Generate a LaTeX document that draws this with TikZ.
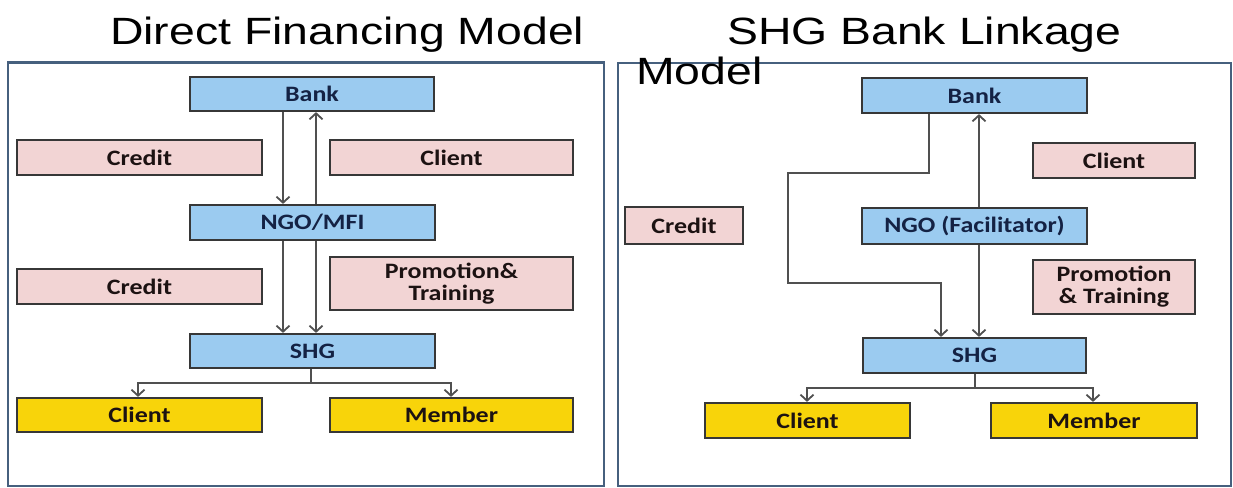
\documentclass[tikz,border=0pt]{standalone}
\usepackage{fontspec}
\usetikzlibrary{arrows.meta}
\newfontfamily\titlefont[FakeStretch=1.22]{Liberation Sans}
\newfontfamily\boxfont[FakeStretch=1.18]{Carlito Bold}
\definecolor{blueF}{RGB}{155,203,240}
\definecolor{pinkF}{RGB}{242,212,212}
\definecolor{yellowF}{RGB}{248,212,10}
\definecolor{edgeC}{RGB}{55,55,55}
\definecolor{frameC}{RGB}{70,96,126}
\definecolor{navyT}{RGB}{20,34,68}
\definecolor{darkT}{RGB}{28,18,18}
\definecolor{lineC}{RGB}{80,80,80}
\tikzset{
  box/.style={draw=edgeC, line width=2.2pt, inner sep=0pt, align=center,
    font=\boxfont\fontsize{22}{25}\selectfont},
  bluebox/.style={box, fill=blueF, text=navyT},
  pinkbox/.style={box, fill=pinkF, text=darkT},
  yellowbox/.style={box, fill=yellowF, text=darkT},
  frame/.style={draw=frameC, line width=2.4pt},
  conn/.style={draw=lineC, line width=2.2pt},
  arr/.style={conn, -{Straight Barb[length=6pt,width=13pt,line width=1.8pt]}},
  ttl/.style={inner sep=0pt, anchor=base west, font=\titlefont\fontsize{38}{40}\selectfont}
}
\begin{document}
\begin{tikzpicture}[x=1pt,y=-1pt]
\useasboundingbox (0,0) rectangle (1233,487);
\fill[white] (0,0) rectangle (1233,487);
% frames
\draw[frame] (8,62.5) rectangle (604,486);
\draw[frame] (618,63) rectangle (1231,486);
% titles
\node[ttl] (t1) at (110,45) {Direct Financing Model};
\node[ttl] (t2) at (727,45) {SHG Bank Linkage};
\node[ttl] (t3) at (636,84) {Model};
% ---------- left panel ----------
\node[bluebox, minimum width=244pt, minimum height=34pt] (bankL) at (312,94) {Bank};
\node[pinkbox, minimum width=245pt, minimum height=35pt] (creditL1) at (139.5,157.5) {Credit};
\node[pinkbox, minimum width=243pt, minimum height=35pt] (clientL1) at (451.5,157.5) {Client};
\node[bluebox, minimum width=245pt, minimum height=35pt] (ngoL) at (312.5,222.5) {NGO/MFI};
\node[pinkbox, minimum width=245pt, minimum height=35pt] (creditL2) at (139.5,286.5) {Credit};
\node[pinkbox, minimum width=243pt, minimum height=53pt] (promoL) at (451.5,283.5) {Promotion\&\\[-3pt]Training};
\node[bluebox, minimum width=245pt, minimum height=34pt] (shgL) at (312.5,351) {SHG};
\node[yellowbox, minimum width=245pt, minimum height=34pt] (clientL2) at (139.5,415) {Client};
\node[yellowbox, minimum width=243pt, minimum height=34pt] (memberL) at (451.5,415) {Member};
% left connectors
\draw[arr] (bankL.south -| 283,0) -- (ngoL.north -| 283,0);
\draw[arr] (ngoL.north -| 316,0) -- (bankL.south -| 316,0);
\draw[arr] (ngoL.south -| 283,0) -- (shgL.north -| 283,0);
\draw[arr] (ngoL.south -| 316,0) -- (shgL.north -| 316,0);
\coordinate (jL) at (311,383);
\draw[conn] (shgL.south -| jL) -- (jL);
\draw[arr] (jL) -| (clientL2.north -| 138,0);
\draw[arr] (jL) -| (memberL.north -| 451,0);
% ---------- right panel ----------
\node[bluebox, minimum width=225pt, minimum height=35pt] (bankR) at (974.5,95.5) {Bank};
\node[pinkbox, minimum width=162pt, minimum height=35pt] (clientR1) at (1114,160.5) {Client};
\node[pinkbox, minimum width=118pt, minimum height=37pt] (creditR) at (684,225.5) {Credit};
\node[bluebox, minimum width=225pt, minimum height=36pt] (ngoR) at (974.5,226) {NGO (Facilitator)};
\node[pinkbox, minimum width=162pt, minimum height=54pt] (promoR) at (1114,287) {Promotion\\[-3pt]\& Training};
\node[bluebox, minimum width=223pt, minimum height=35pt] (shgR) at (974.5,355.5) {SHG};
\node[yellowbox, minimum width=205pt, minimum height=35pt] (clientR2) at (807.5,420.5) {Client};
\node[yellowbox, minimum width=206pt, minimum height=35pt] (memberR) at (1094,420.5) {Member};
% right connectors
\coordinate (r1) at (929,173);
\coordinate (r2) at (788,173);
\coordinate (r3) at (788,283);
\coordinate (r4) at (941,283);
\draw[arr] (bankR.south -| r1) -- (r1) -- (r2) -- (r3) -- (r4) -- (shgR.north -| r4);
\draw[arr] (ngoR.north -| 979,0) -- (bankR.south -| 979,0);
\draw[arr] (ngoR.south -| 979,0) -- (shgR.north -| 979,0);
\coordinate (jR) at (975,388);
\draw[conn] (shgR.south -| jR) -- (jR);
\draw[arr] (jR) -| (clientR2.north -| 807,0);
\draw[arr] (jR) -| (memberR.north -| 1093,0);
\end{tikzpicture}
\end{document}
